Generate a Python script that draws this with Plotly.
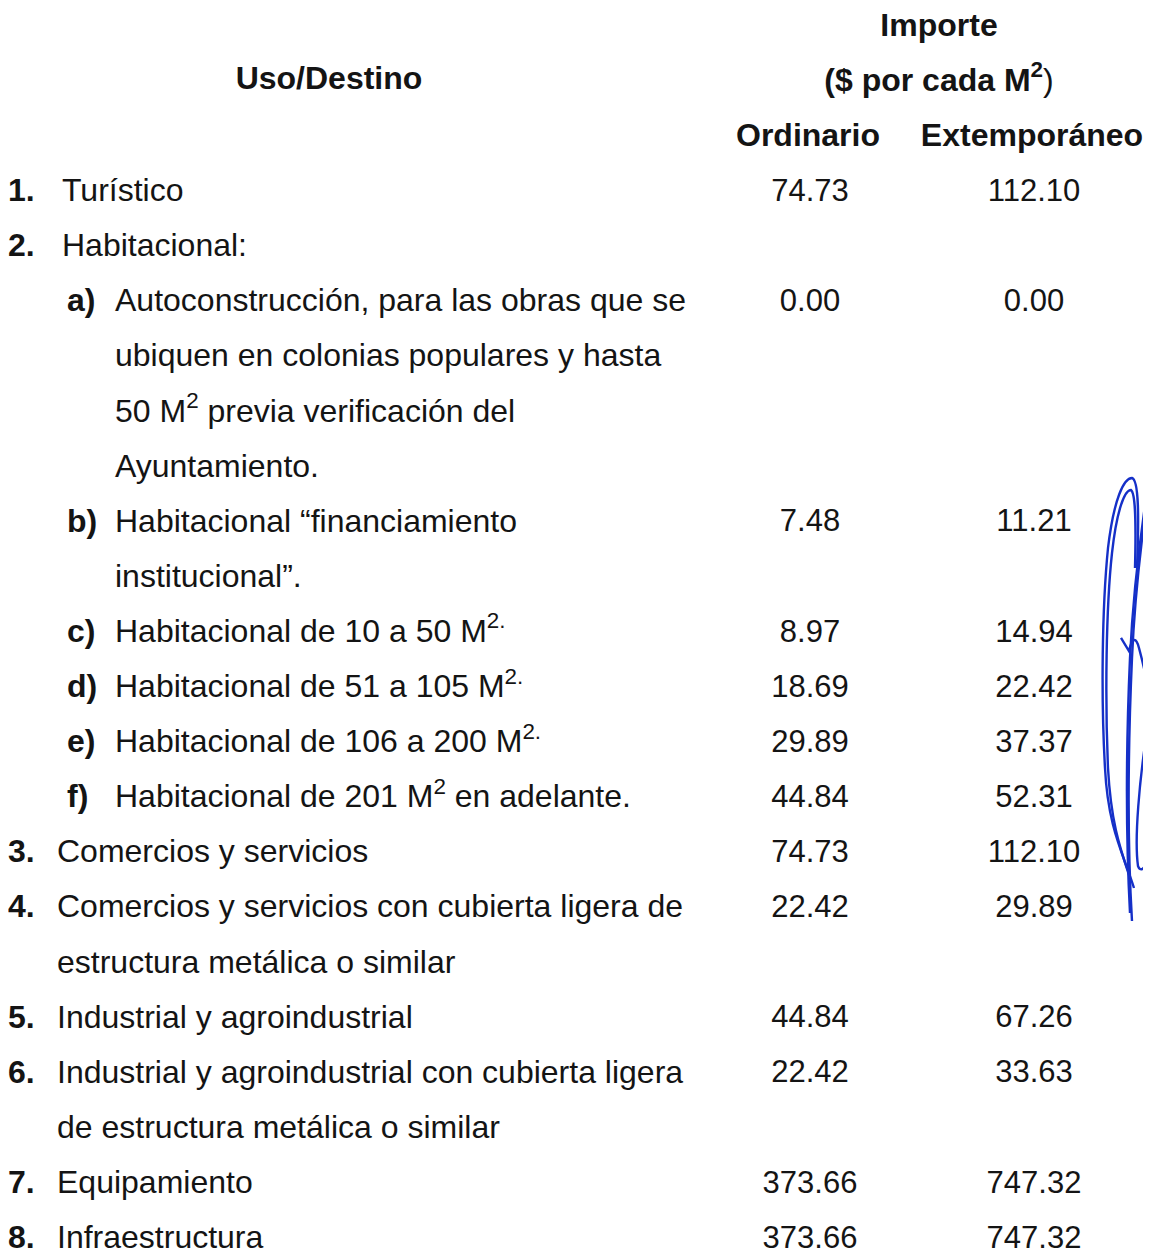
import plotly.graph_objects as go

# ---------------- data ----------------
item_labels = ["1.", "2.", "a)", "b)", "c)", "d)", "e)", "f)", "3.", "4.", "5.", "6.", "7.", "8."]
item_descriptions = [
    ["Turístico"],
    ["Habitacional:"],
    ["Autoconstrucción, para las obras que se",
     "ubiquen en colonias populares y hasta",
     "50 M<sup>2</sup> previa verificación del",
     "Ayuntamiento."],
    ["Habitacional “financiamiento",
     "institucional”."],
    ["Habitacional de 10 a 50 M<sup>2.</sup>"],
    ["Habitacional de 51 a 105 M<sup>2.</sup>"],
    ["Habitacional de 106 a 200 M<sup>2.</sup>"],
    ["Habitacional de 201 M<sup>2</sup> en adelante."],
    ["Comercios y servicios"],
    ["Comercios y servicios con cubierta ligera de",
     "estructura metálica o similar"],
    ["Industrial y agroindustrial"],
    ["Industrial y agroindustrial con cubierta ligera",
     "de estructura metálica o similar"],
    ["Equipamiento"],
    ["Infraestructura"],
]
ordinario = [74.73, None, 0.00, 7.48, 8.97, 18.69, 29.89, 44.84, 74.73, 22.42, 44.84, 22.42, 373.66, 373.66]
extemporaneo = [112.10, None, 0.00, 11.21, 14.94, 22.42, 37.37, 52.31, 112.10, 29.89, 67.26, 33.63, 747.32, 747.32]

header_col1 = "Uso/Destino"
header_importe = ["Importe", "($ por cada M<sup>2</sup>"]
header_cols = ["Ordinario", "Extemporáneo"]

# ---------------- layout constants ----------------
W, H = 1151, 1257
LINE_PX = 55.1
FIRST_LINE_PX = 19.8
FONT = "Arial, Liberation Sans, sans-serif"
FS_TXT = 32
FS_NUM = 31
INK = "#141414"

X_NUM_TOP = 0        # "1." position
X_NUM_SUB = 59       # "a)" position
X_TXT_TOP = 49
X_TXT_TOP_12 = 54
X_TXT_SUB = 107
X_ORD = 802
X_EXT = 1026
X_USO = 321
X_IMP = 931
X_ORD_H = 800
X_EXT_H = 1024
FIRST_ROW_LINE = 3

# assign lines
num_x, num_y, num_t = [], [], []
txt_x, txt_y, txt_t = [], [], []
val_y = []
line = FIRST_ROW_LINE
for i, (lab, desc) in enumerate(zip(item_labels, item_descriptions)):
    is_sub = lab.endswith(")")
    num_x.append(X_NUM_SUB if is_sub else X_NUM_TOP)
    num_y.append(line)
    num_t.append(f"<b>{lab}</b>")
    if is_sub:
        tx = X_TXT_SUB
    elif i < 2:
        tx = X_TXT_TOP_12
    else:
        tx = X_TXT_TOP
    val_y.append(line)
    for d in desc:
        txt_x.append(tx)
        txt_y.append(line)
        txt_t.append(d)
        line += 1

fig = go.Figure()

def common(size):
    return dict(mode="text", hoverinfo="skip", showlegend=False,
                textfont=dict(family=FONT, size=size, color=INK))

fig.add_trace(go.Scatter(x=num_x, y=num_y, text=num_t, textposition="middle right", **common(FS_TXT)))
fig.add_trace(go.Scatter(x=txt_x, y=txt_y, text=txt_t, textposition="middle right", **common(FS_TXT)))

ord_y = [y for y, v in zip(val_y, ordinario) if v is not None]
ord_t = [f"{v:.2f}" for v in ordinario if v is not None]
ext_y = [y for y, v in zip(val_y, extemporaneo) if v is not None]
ext_t = [f"{v:.2f}" for v in extemporaneo if v is not None]
fig.add_trace(go.Scatter(x=[X_ORD] * len(ord_y), y=ord_y, text=ord_t, textposition="middle center", **common(FS_NUM)))
fig.add_trace(go.Scatter(x=[X_EXT] * len(ext_y), y=ext_y, text=ext_t, textposition="middle center", **common(FS_NUM)))

# headers
hx = [X_IMP, X_IMP, X_USO, X_ORD_H, X_EXT_H]
hy = [0, 1, 0.96, 2, 2]
ht = [f"<b>{header_importe[0]}</b>",
      f"<b>{header_importe[1]}</b>)",
      f"<b>{header_col1}</b>",
      f"<b>{header_cols[0]}</b>",
      f"<b>{header_cols[1]}</b>"]
fig.add_trace(go.Scatter(x=hx, y=hy, text=ht, textposition="middle center", **common(FS_TXT)))

# handwritten signature (decoration), pixel coords -> paper
def P(x, y):
    return f"{x / W:.5f},{1 - y / H:.5f}"

sig_paths = [
    # long central stroke (double)
    f"M {P(1151,418)} C {P(1140,480)} {P(1128,560)} {P(1124,650)} C {P(1120,740)} {P(1119,830)} {P(1124,913)}",
    f"M {P(1149,425)} C {P(1138,485)} {P(1126,565)} {P(1122,650)} C {P(1118,740)} {P(1118,830)} {P(1122,905)}",
    # tall left loop (double)
    f"M {P(1126,880)} C {P(1115,845)} {P(1100,820)} {P(1097,760)} C {P(1093,690)} {P(1094,600)} {P(1100,540)} "
    f"C {P(1106,490)} {P(1116,470)} {P(1124,470)} C {P(1131,472)} {P(1131,510)} {P(1129,560)}",
    f"M {P(1122,870)} C {P(1112,840)} {P(1103,815)} {P(1100,760)} C {P(1097,690)} {P(1098,600)} {P(1104,545)} "
    f"C {P(1109,500)} {P(1117,482)} {P(1123,482)} C {P(1128,486)} {P(1128,520)} {P(1127,560)}",
    # hook, small loop, cross and lower loop
    f"M {P(1113,630)} L {P(1121,643)} C {P(1124,630)} {P(1128,628)} {P(1131,640)} C {P(1135,655)} {P(1140,675)} {P(1143,700)} "
    f"C {P(1147,740)} {P(1150,800)} {P(1140,850)} C {P(1137,862)} {P(1132,864)} {P(1130,858)} "
    f"C {P(1126,830)} {P(1132,770)} {P(1138,730)} C {P(1143,700)} {P(1148,670)} {P(1150,640)}",
]
shapes = [dict(type="path", path=p, xref="paper", yref="paper",
               line=dict(color="#1530c8", width=2.4)) for p in sig_paths]

fig.update_layout(
    width=W, height=H,
    margin=dict(l=0, r=0, t=0, b=0),
    paper_bgcolor="white", plot_bgcolor="white",
    xaxis=dict(range=[0, W], visible=False, fixedrange=True),
    yaxis=dict(range=[(H - FIRST_LINE_PX) / LINE_PX, -FIRST_LINE_PX / LINE_PX], visible=False, fixedrange=True),
    shapes=shapes,
    hovermode=False,
)

fig.write_html("out.html")
